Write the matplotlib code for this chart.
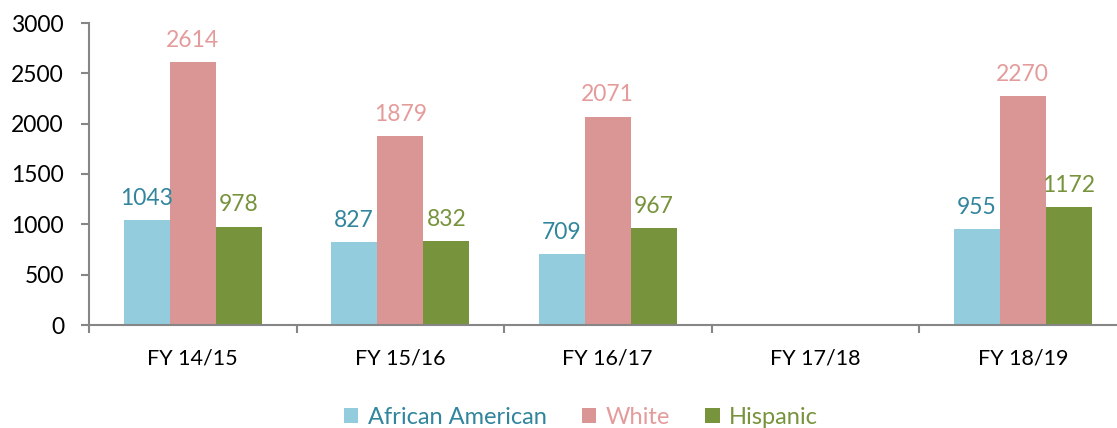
import numpy as np
import matplotlib.pyplot as plt

years = ['FY 14/15', 'FY 15/16', 'FY 16/17', 'FY 17/18', 'FY 18/19']
african_american = [1043, 827, 709, np.nan, 955]
white = [2614, 1879, 2071, np.nan, 2270]
hispanic = [978, 832, 967, np.nan, 1172]

series = [
    ('African American', african_american, '#93CDDD', '#31859C'),
    ('White', white, '#D99694', '#E39C9B'),
    ('Hispanic', hispanic, '#77933C', '#77933C'),
]

plt.rcParams['font.family'] = ['Lato', 'DejaVu Sans']

fig = plt.figure(figsize=(11.17, 4.28), dpi=100)
ax = fig.add_axes([89 / 1117, 103 / 428, 5 * 207.5 / 1117, 302 / 428])

x = np.arange(len(years))
w = 0.222
handles = []
for i, (name, vals, col, tcol) in enumerate(series):
    pos = x + (i - 1) * w
    bars = ax.bar(pos, vals, width=w, color=col, label=name)
    handles.append(bars)
    for px, v in zip(pos, vals):
        if np.isnan(v):
            continue
        ax.annotate(str(int(v)), (px, v), xytext=(0, 8), textcoords='offset points',
                    ha='center', va='bottom', color=tcol, fontsize=16.5)

ax.set_xlim(-0.5, 4.5)
ax.set_ylim(0, 3000)
ax.set_yticks(np.arange(0, 3001, 500))
ax.set_xticks(x)
ax.set_xticklabels(years)
ax.set_xticks(np.arange(-0.5, 4.6, 1), minor=True)
ax.tick_params(axis='x', which='major', length=0, pad=17, labelsize=15.5)
ax.tick_params(axis='x', which='minor', length=6, color='#868686', width=1.5)
ax.tick_params(axis='y', length=6, color='#868686', width=1.5, labelsize=16.5, pad=12)

for s in ['top', 'right']:
    ax.spines[s].set_visible(False)
for s in ['left', 'bottom']:
    ax.spines[s].set_color('#868686')
    ax.spines[s].set_linewidth(1.5)

leg = fig.legend(handles=handles, loc='center', bbox_to_anchor=(581 / 1117, 11 / 428),
                 ncol=3, frameon=False, fontsize=17, handlelength=0.6, handleheight=0.6,
                 handletextpad=0.4, columnspacing=1.5)
for t, (_, _, _, tcol) in zip(leg.get_texts(), series):
    t.set_color(tcol)

fig.savefig('out.png', dpi=100)
